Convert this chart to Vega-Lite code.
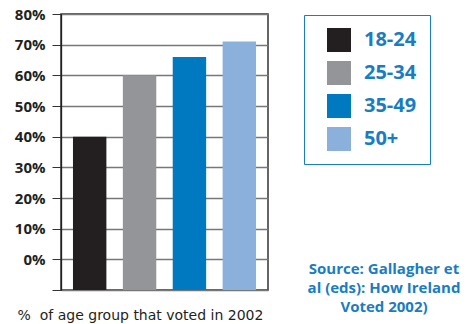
{
  "$schema": "https://vega.github.io/schema/vega-lite/v6.json",
  "width": 207,
  "height": 276,
  "autosize": {"type": "none"},
  "padding": {"left": 61, "top": 14, "right": 199, "bottom": 34},
  "background": "white",
  "title": {
    "text": ["Source: Gallagher et", "al (eds): How Ireland", "Voted 2002)"],
    "orient": "bottom",
    "anchor": "end",
    "frame": "group",
    "align": "center",
    "dx": 116,
    "dy": -64,
    "font": "Open Sans",
    "fontSize": 15,
    "fontWeight": "bold",
    "color": "#1a7cc1",
    "lineHeight": 19
  },
  "data": {
    "values": [
      {"group": "18-24", "pct": 40},
      {"group": "25-34", "pct": 60},
      {"group": "35-49", "pct": 66},
      {"group": "50+", "pct": 71}
    ]
  },
  "mark": {"type": "bar"},
  "encoding": {
    "x": {
      "field": "group",
      "type": "nominal",
      "sort": null,
      "scale": {"paddingInner": 0.33, "paddingOuter": 0.24},
      "axis": {
        "title": "%\u00a0 of age group that voted in 2002",
        "labels": false,
        "ticks": false,
        "domain": false,
        "titleFont": "DejaVu Sans",
        "titleFontSize": 14,
        "titleFontWeight": "normal",
        "titleColor": "#231f20",
        "titleAnchor": "start",
        "titleAlign": "center",
        "titleX": 79,
        "titleY": 25,
        "titleBaseline": "middle"
      }
    },
    "y": {
      "field": "pct",
      "type": "quantitative",
      "scale": {"domain": [-10, 80], "nice": false, "zero": false},
      "axis": {
        "title": null,
        "values": [-10, 0, 10, 20, 30, 40, 50, 60, 70, 80],
        "labelExpr": "datum.value < 0 ? '' : datum.value + '%'",
        "labelFont": "Open Sans",
        "labelFontSize": 15,
        "labelFontWeight": "bold",
        "labelColor": "#231f20",
        "labelPadding": 7,
        "tickSize": 9,
        "tickColor": "#333333",
        "tickWidth": 1,
        "grid": true,
        "gridColor": "#777777",
        "gridWidth": 1.3,
        "domainColor": "#231f20",
        "domainWidth": 1.3
      }
    },
    "y2": {"datum": -10},
    "color": {
      "field": "group",
      "type": "nominal",
      "sort": null,
      "scale": {
        "domain": ["18-24", "25-34", "35-49", "50+"],
        "range": ["#231f20", "#939598", "#0079c1", "#8cb0dc"]
      },
      "legend": {
        "title": null,
        "orient": "none",
        "legendX": 243,
        "legendY": 1,
        "padding": 13,
        "symbolOffset": 10,
        "symbolType": "square",
        "symbolSize": 576,
        "symbolStrokeWidth": 0,
        "symbolOpacity": 1,
        "rowPadding": 9,
        "labelOffset": 13,
        "labelFont": "Open Sans",
        "labelFontSize": 20,
        "labelFontWeight": "bold",
        "labelColor": "#1a7cc1",
        "labelExpr": "datum.label + '\u00a0\u00a0\u00a0\u00a0\u00a0\u00a0\u00a0\u00a0\u00a0\u00a0\u00a0\u00a0\u00a0\u00a0\u00a0\u00a0\u00a0\u00a0\u00a0\u00a0\u00a0\u00a0\u00a0\u00a0\u00a0\u00a0\u00a0\u00a0\u00a0\u00a0'",
        "labelLimit": 400,
        "strokeColor": "#1a7cc1"
      }
    }
  },
  "config": {
    "view": {"stroke": "#333333", "strokeWidth": 1.5},
    "axis": {"gridDash": [], "tickCap": "butt"}
  }
}
